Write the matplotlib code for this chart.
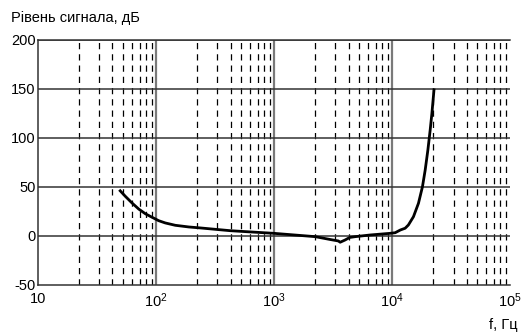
import matplotlib
matplotlib.use("Agg")
import matplotlib.pyplot as plt
from matplotlib.ticker import FixedLocator, FuncFormatter, NullFormatter
import numpy as np

plt.rcParams['font.family'] = ['Liberation Sans', 'DejaVu Sans']
plt.rcParams['mathtext.fontset'] = 'custom'
plt.rcParams['mathtext.rm'] = 'Liberation Sans'
plt.rcParams['axes.unicode_minus'] = False

# frequency response curve
freq_hz = [49.1, 55.2, 63.0, 71.8, 81.7, 93.1, 106, 120.5, 146.5, 190.5,
           239, 427, 600, 1000, 2240, 3000, 3520, 3650, 4020, 4400, 4900,
           6550, 9680, 10660, 11800, 12960, 13800, 15240, 16800, 18160,
           19150, 20180, 21110, 21830, 22800]
level_db = [46.9, 40.3, 33.4, 27.2, 22.4, 18.8, 15.3, 13.0, 10.6, 8.9,
            7.9, 5.1, 4.0, 2.4, -1.0, -3.9, -5.4, -6.7, -4.4, -1.8, -1.0,
            0.7, 2.4, 3.0, 5.8, 7.6, 10.9, 19.4, 33.1, 50.0,
            67.0, 87.4, 107.9, 124.9, 150.4]

y_ticks = [-50, 0, 50, 100, 150, 200]
decades = [10, 100, 1000, 10000, 100000]
# minor grid positions inside a decade as drawn in the original figure
minor_steps = [2.22, 3.33, 4.3, 5.25, 6.25, 7.35, 8.3, 9.35]

fig = plt.figure(figsize=(5.23, 3.36), dpi=100)
ax = fig.add_axes([0.072, 0.153, 0.903, 0.728])

ax.set_xscale('log')
ax.set_xlim(10, 1e5)
ax.set_ylim(-50, 200)

minors = [d * s for d in decades[:-1] for s in minor_steps]
for m in minors:
    ax.axvline(m, color='black', lw=0.9, ls=(0, (5, 4)), zorder=1)
for d in decades[1:-1]:
    ax.axvline(d, color='#7a7a7a', lw=1.6, zorder=1)
for yv in y_ticks[1:]:
    ax.axhline(yv, color='#333333', lw=1.1, zorder=1)

ax.plot(freq_hz, level_db, color='black', lw=2.0, zorder=3,
        solid_joinstyle='round', solid_capstyle='butt')

ax.xaxis.set_major_locator(FixedLocator(decades))
ax.xaxis.set_minor_locator(FixedLocator(minors))
ax.xaxis.set_minor_formatter(NullFormatter())


def fmt(v, pos):
    e = int(round(np.log10(v)))
    if e == 1:
        return '10'
    return r'$\mathregular{10^{%d}}$' % e


ax.xaxis.set_major_formatter(FuncFormatter(fmt))
ax.set_yticks(y_ticks)
ax.tick_params(which='both', length=0, labelsize=10.5, colors='black')
ax.tick_params(axis='x', pad=5)
ax.tick_params(axis='y', pad=1.5)

ax.spines['right'].set_visible(False)
for s in ['left', 'bottom', 'top']:
    ax.spines[s].set_color('#333333')
    ax.spines[s].set_linewidth(1.1)

fig.text(0.021, 0.968, 'Рівень сигнала, дБ', fontsize=10.5, va='top', ha='left')
fig.text(0.99, 0.012, 'f, Гц', fontsize=10.5, va='bottom', ha='right')

fig.savefig('out.png', dpi=100)
